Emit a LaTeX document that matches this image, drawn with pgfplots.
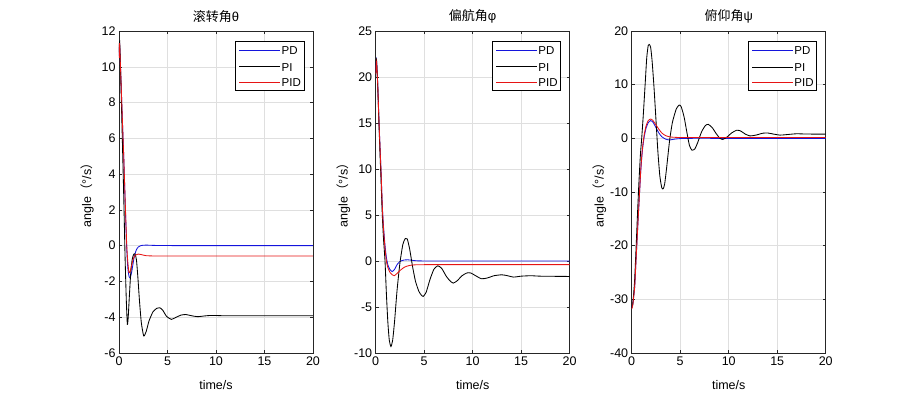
\documentclass[border=0pt]{standalone}
\usepackage{fontspec}
\setmainfont{Liberation Sans}
\newfontfamily\cjk{Noto Sans CJK SC}
\usepackage{pgfplots}
\pgfplotsset{compat=1.18}
\definecolor{colpd}{RGB}{20,20,220}
\definecolor{colpi}{RGB}{0,0,0}
\definecolor{colpid}{RGB}{230,20,20}
\definecolor{axc}{RGB}{38,38,38}
\pgfplotsset{
  myax/.style={
    scale only axis, width=194pt, height=322pt, anchor=south west,
    xmin=0, xmax=20, xtick={0,5,10,15,20},
    grid=major, major grid style={gray!25, line width=0.5pt},
    axis line style={axc, line width=0.6pt},
    tick style={axc, line width=0.5pt}, major tick length=3pt,
    tick align=inside, xtick pos=both, ytick pos=both,
    /pgf/number format/assume math mode=true,
    ticklabel style={font=\fontsize{12.5}{14}\selectfont},
    xlabel={time/s}, ylabel={angle{\cjk （}°/s{\cjk ）}},
    label style={font=\fontsize{12.5}{14}\selectfont},
    xlabel style={at={(axis description cs:0.5,-0.1)}, anchor=center},
    ylabel style={at={(axis description cs:-0.165,0.5)}, anchor=center},
    title style={at={(axis description cs:0.5,1.027)}, anchor=center, font=\fontsize{13}{15}\selectfont},
    every axis plot/.append style={line width=0.85pt},
    clip=true,
  }
}
\newcommand\mylegend[1]{%
 \draw[black, line width=0.5pt, fill=white] ([xshift=-77.3pt,yshift=-10pt]#1.north east) rectangle ([xshift=-9pt,yshift=-59pt]#1.north east);
 \draw[colpd, line width=1pt] ([xshift=-73.7pt,yshift=-19.7pt]#1.north east) -- ++(40.7pt,0pt);
 \draw[colpi, line width=1pt] ([xshift=-73.7pt,yshift=-36pt]#1.north east) -- ++(40.7pt,0pt);
 \draw[colpid, line width=1pt] ([xshift=-73.7pt,yshift=-51.3pt]#1.north east) -- ++(40.7pt,0pt);
 \node[anchor=base west, inner sep=0pt, font=\fontsize{11.5}{13}\selectfont] at ([xshift=-31.5pt,yshift=-23.8pt]#1.north east) {PD};
 \node[anchor=base west, inner sep=0pt, font=\fontsize{11.5}{13}\selectfont] at ([xshift=-31.5pt,yshift=-40.1pt]#1.north east) {PI};
 \node[anchor=base west, inner sep=0pt, font=\fontsize{11.5}{13}\selectfont] at ([xshift=-31.5pt,yshift=-55.4pt]#1.north east) {PID};
}
\begin{document}
\begin{tikzpicture}
\useasboundingbox (0,0) rectangle (914pt,398pt);
% ---------- Plot 1 ----------
\begin{axis}[myax, name=a1, at={(119pt,45pt)}, ymin=-6, ymax=12, ytick={-6,-4,...,12}, title={{\cjk 滚转角}θ}]
\addplot[color=colpd, smooth, tension=0.35] coordinates {(0,10.6)(0.07,11.2)(0.2,9.3)(0.35,7.0)(0.5,4.8)(0.65,2.2)(0.8,-0.2)(0.92,-1.3)(1.05,-1.75)(1.15,-1.8)(1.3,-1.5)(1.45,-1.0)(1.6,-0.55)(1.8,-0.22)(2.0,-0.07)(2.3,0.01)(2.8,0.03)(4,0.01)(8,0)(20,0)};
\addplot[color=colpi, smooth, tension=0.35] coordinates {(0,10.8)(0.07,11.4)(0.2,9.0)(0.35,5.8)(0.5,2.5)(0.62,-0.5)(0.75,-3.0)(0.86,-4.4)(0.95,-4.0)(1.05,-3.0)(1.2,-1.6)(1.35,-0.8)(1.5,-0.5)(1.65,-0.45)(1.8,-0.8)(1.95,-1.8)(2.1,-3.0)(2.3,-4.3)(2.55,-5.05)(2.8,-4.8)(3.1,-4.2)(3.5,-3.7)(3.9,-3.5)(4.2,-3.47)(4.5,-3.6)(4.9,-3.95)(5.4,-4.12)(5.9,-4.0)(6.4,-3.88)(6.9,-3.85)(7.5,-3.92)(8.1,-3.97)(8.8,-3.93)(9.5,-3.9)(11,-3.92)(13,-3.92)(20,-3.92)};
\addplot[color=colpid, smooth, tension=0.35] coordinates {(0,10.5)(0.06,11.3)(0.2,9.3)(0.35,7.0)(0.5,4.8)(0.65,2.3)(0.8,0.0)(0.92,-1.0)(1.03,-1.5)(1.15,-1.45)(1.3,-1.1)(1.5,-0.7)(1.7,-0.52)(2.0,-0.47)(2.3,-0.5)(2.8,-0.56)(4,-0.58)(8,-0.58)(20,-0.58)};
\end{axis}
\mylegend{a1}
% ---------- Plot 2 ----------
\begin{axis}[myax, name=a2, at={(375.7pt,45pt)}, ymin=-10, ymax=25, ytick={-10,-5,...,25}, title={{\cjk 偏航角}φ}]
\addplot[color=colpd, smooth, tension=0.35] coordinates {(0,20.5)(0.08,21.8)(0.2,19.5)(0.34,15.2)(0.45,12.3)(0.55,9.8)(0.68,6.0)(0.8,3.8)(0.95,1.8)(1.1,0.4)(1.25,-0.4)(1.45,-0.9)(1.7,-1.15)(1.95,-0.9)(2.2,-0.4)(2.5,-0.05)(2.9,0.1)(3.3,0.13)(3.8,0.07)(4.5,0.01)(8,0)(20,0)};
\addplot[color=colpi, smooth, tension=0.35] coordinates {(0,20.5)(0.08,21.9)(0.2,19.2)(0.34,14.8)(0.45,11.5)(0.55,8.8)(0.68,5.0)(0.8,2.5)(0.96,0)(1.1,-3.5)(1.25,-6.6)(1.4,-8.6)(1.57,-9.3)(1.75,-8.6)(1.95,-6.5)(2.2,-3.2)(2.5,-0.2)(2.8,1.8)(3.05,2.45)(3.25,2.4)(3.5,1.3)(3.8,-0.6)(4.1,-2.2)(4.45,-3.3)(4.7,-3.7)(4.9,-3.85)(5.2,-3.4)(5.6,-2.0)(6.0,-0.9)(6.4,-0.52)(6.8,-0.8)(7.3,-1.7)(7.7,-2.2)(8.0,-2.4)(8.4,-2.15)(8.9,-1.6)(9.4,-1.3)(9.8,-1.3)(10.3,-1.6)(10.9,-1.93)(11.5,-1.85)(12.2,-1.6)(13,-1.5)(13.6,-1.6)(14.2,-1.75)(15,-1.65)(16,-1.6)(17,-1.65)(20,-1.68)};
\addplot[color=colpid, smooth, tension=0.35] coordinates {(0,20.3)(0.08,21.6)(0.2,19.4)(0.34,15.1)(0.45,12.2)(0.55,9.7)(0.68,5.9)(0.8,3.6)(0.95,1.5)(1.1,0.0)(1.25,-0.7)(1.45,-1.2)(1.7,-1.5)(1.92,-1.6)(2.2,-1.35)(2.6,-0.95)(3.0,-0.65)(3.5,-0.48)(4.0,-0.42)(5,-0.4)(10,-0.4)(20,-0.4)};
\end{axis}
\mylegend{a2}
% ---------- Plot 3 ----------
\begin{axis}[myax, name=a3, at={(631.7pt,45pt)}, ymin=-40, ymax=20, ytick={-40,-30,...,20}, title={{\cjk 俯仰角}ψ}]
\addplot[color=colpd, smooth, tension=0.35] coordinates {(0,-31.5)(0.1,-31)(0.2,-29.5)(0.31,-27.6)(0.45,-22.5)(0.55,-19)(0.66,-15.2)(0.8,-10.5)(0.93,-6.2)(1.05,-3.3)(1.15,-1.5)(1.3,0.4)(1.48,1.9)(1.7,2.9)(1.95,3.3)(2.2,3.0)(2.5,2.0)(2.8,1.0)(3.1,0.3)(3.5,-0.15)(3.9,-0.3)(4.4,-0.15)(5,-0.05)(6,0)(10,0)(20,0)};
\addplot[color=colpi, smooth, tension=0.35] coordinates {(0,-31.6)(0.1,-31)(0.2,-29)(0.3,-26.5)(0.45,-20.5)(0.6,-14)(0.75,-8)(0.9,-3)(1.03,0)(1.2,4.5)(1.4,10.5)(1.55,15)(1.7,17.3)(1.8,17.5)(1.95,17.0)(2.1,14.5)(2.3,9.5)(2.5,3.5)(2.7,-2.5)(2.9,-7)(3.1,-9.2)(3.25,-9.4)(3.4,-8.5)(3.6,-5.5)(3.9,-0.5)(4.2,3.0)(4.6,5.5)(4.9,6.2)(5.1,5.9)(5.4,4.0)(5.7,1.0)(5.95,-1.3)(6.2,-2.2)(6.5,-2.0)(6.8,-0.8)(7.2,1.2)(7.6,2.4)(7.9,2.6)(8.3,2.0)(8.7,0.9)(9.1,0.0)(9.4,-0.2)(9.8,0.2)(10.3,1.0)(10.8,1.5)(11.2,1.4)(11.7,0.8)(12.2,0.45)(12.8,0.6)(13.5,0.95)(14,1.0)(14.6,0.8)(15.3,0.6)(16,0.7)(17,0.85)(18,0.8)(20,0.78)};
\addplot[color=colpid, smooth, tension=0.35] coordinates {(0,-31.8)(0.1,-31.2)(0.2,-29.6)(0.31,-27.6)(0.45,-22.6)(0.55,-19.1)(0.66,-15.2)(0.8,-10.4)(0.93,-6.0)(1.05,-3.0)(1.15,-1.2)(1.3,0.8)(1.48,2.3)(1.7,3.3)(1.97,3.6)(2.2,3.3)(2.5,2.5)(2.8,1.7)(3.1,1.0)(3.5,0.5)(4,0.25)(5,0.15)(7,0.15)(20,0.15)};
\end{axis}
\mylegend{a3}
\end{tikzpicture}
\end{document}
